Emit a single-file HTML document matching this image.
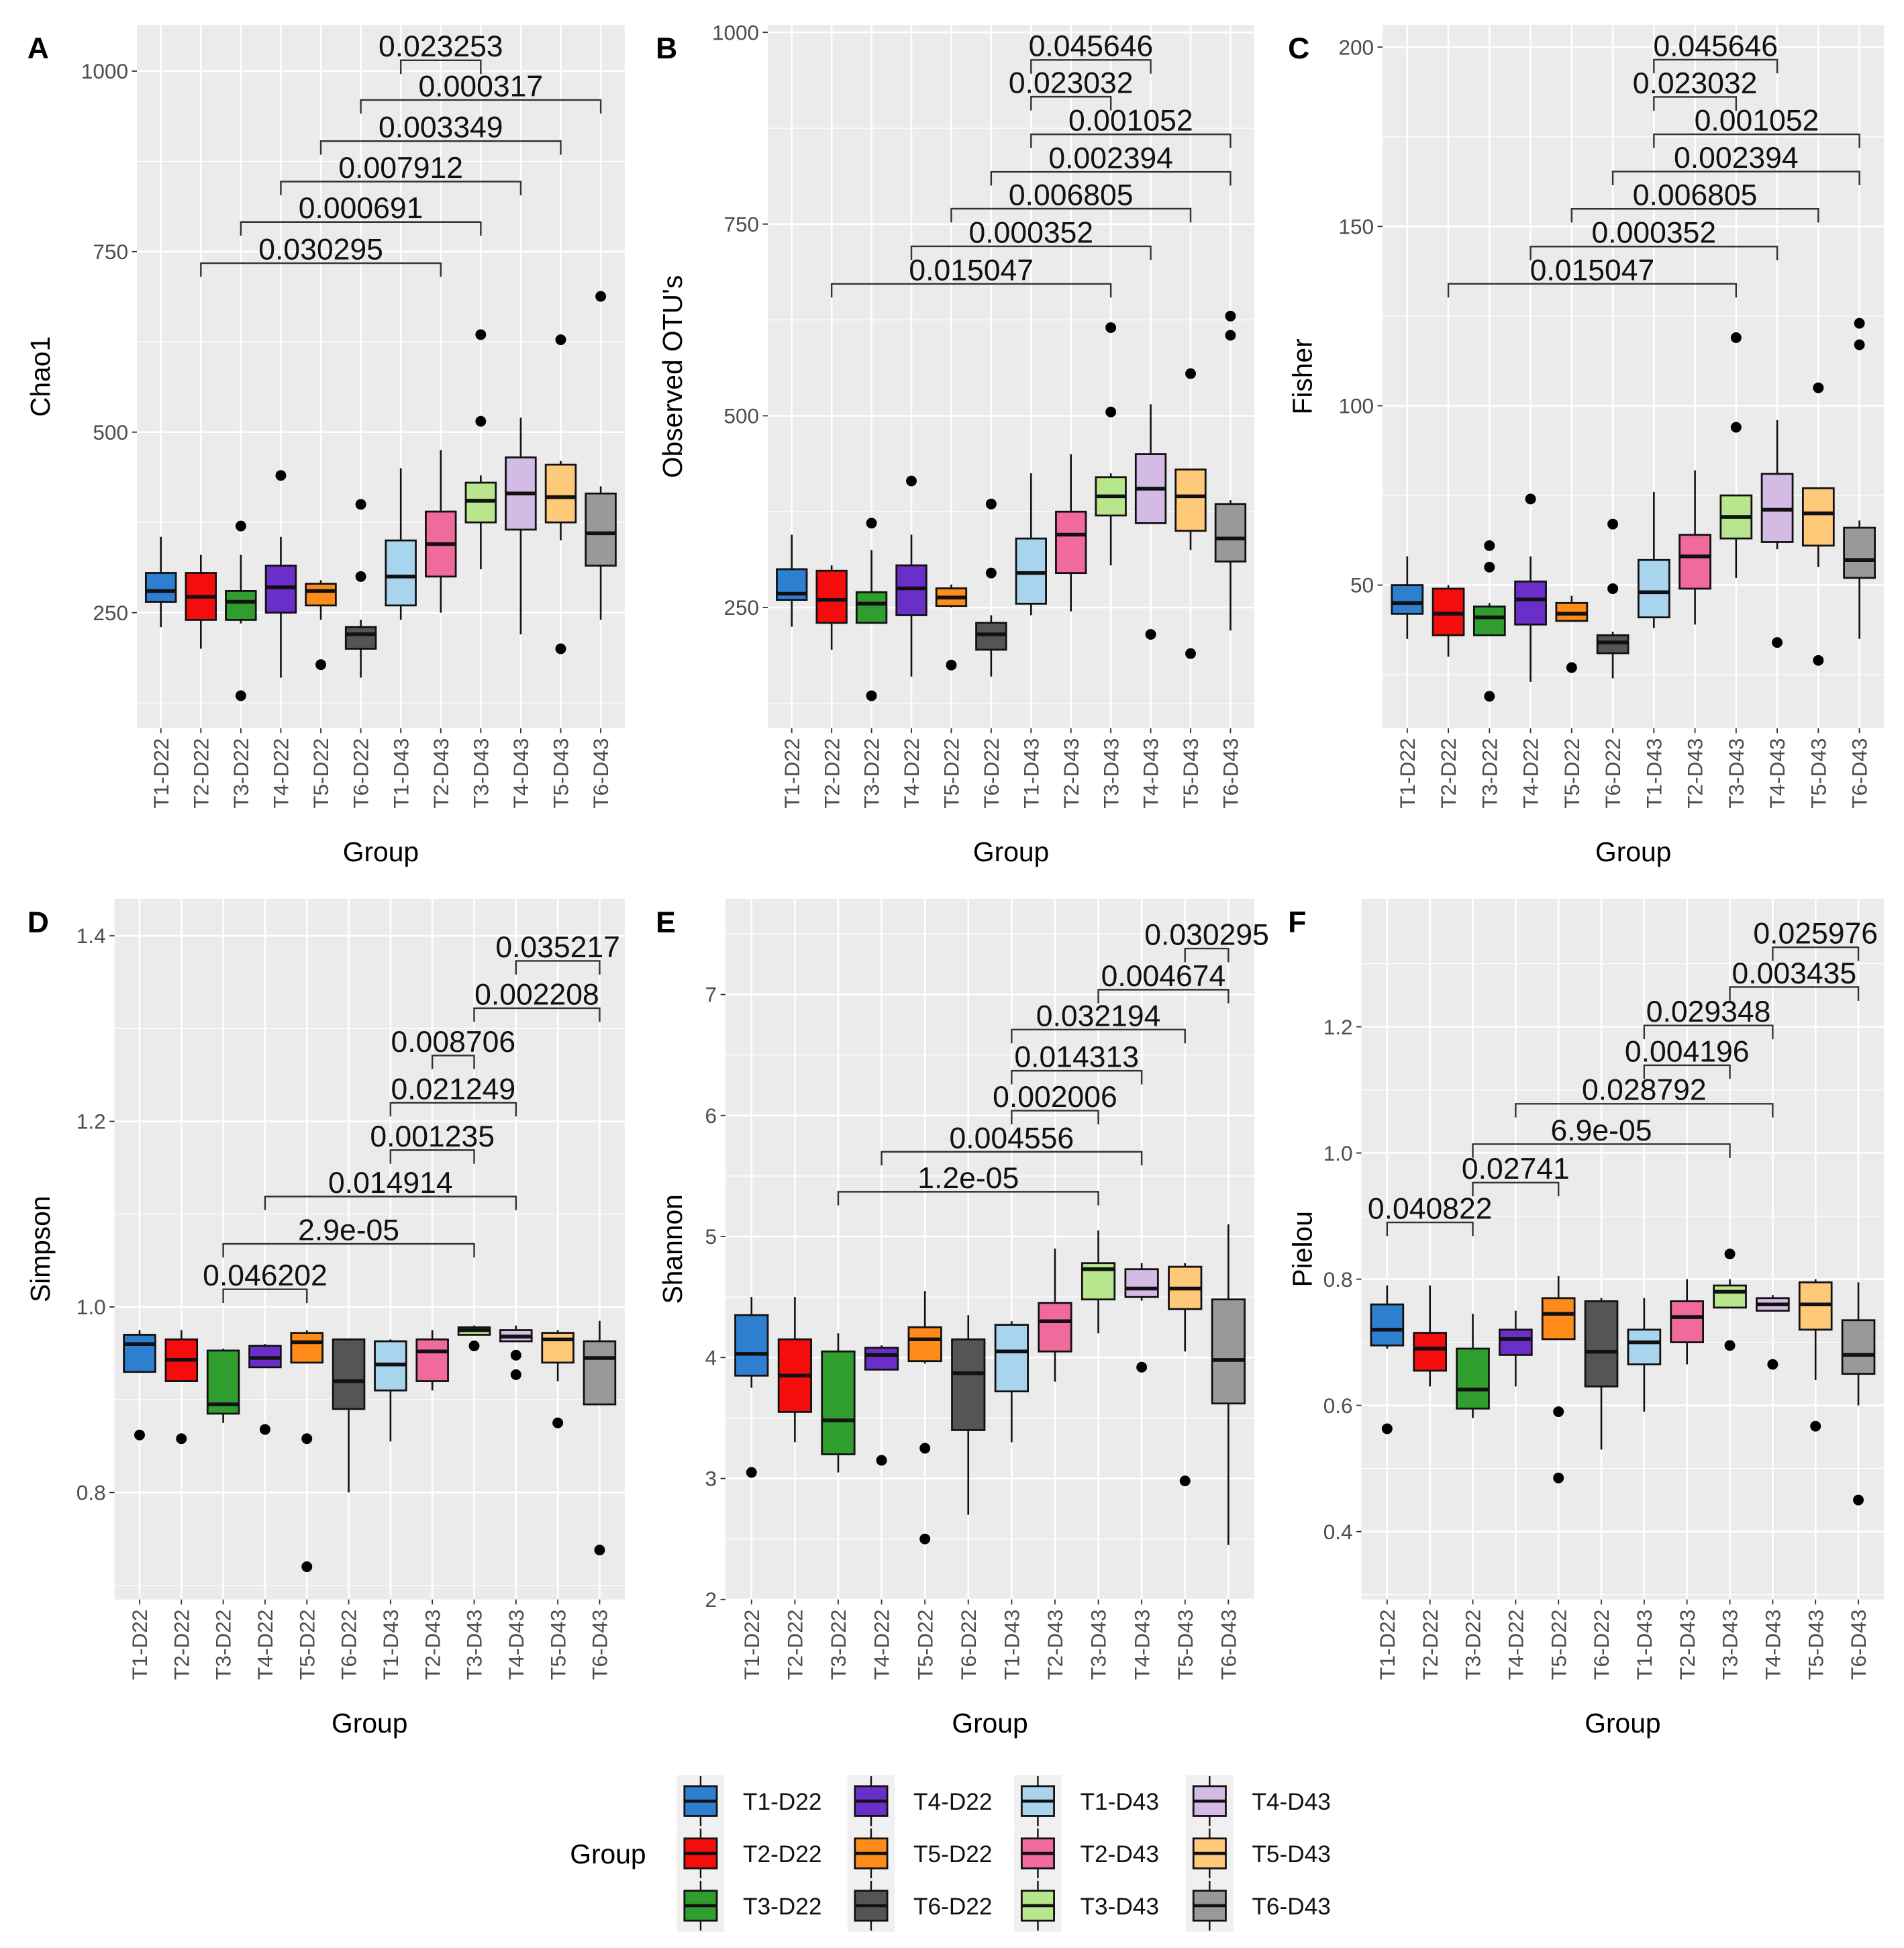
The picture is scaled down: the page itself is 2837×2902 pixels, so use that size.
<!DOCTYPE html>
<html><head><meta charset="utf-8">
<style>
html,body{margin:0;padding:0;background:#fff;}
svg{display:block;font-family:"Liberation Sans",Arial,sans-serif;}
</style></head>
<body>
<svg id="fig" width="2837" height="2902" viewBox="0 0 1530 1565" preserveAspectRatio="none" xmlns="http://www.w3.org/2000/svg"></svg>
<script>
const groups=["T1-D22","T2-D22","T3-D22","T4-D22","T5-D22","T6-D22","T1-D43","T2-D43","T3-D43","T4-D43","T5-D43","T6-D43"];
const colors=["#2f7fd0","#f50d0d","#2f9e2f","#6a2fc9","#ff8c1a","#555555","#a8d4ee","#f06a9e","#b8e68c","#d4bbe6","#ffc97a","#999999"];

// Panel A - Chao1
const aLow=[230,200,235,160,240,160,240,250,310,220,350,240];
const aQ1=[265,240,240,250,260,200,260,300,375,365,375,315];
const aMed=[280,272,265,285,280,220,300,345,405,415,410,360];
const aQ3=[305,305,280,315,290,230,350,390,430,465,455,415];
const aHigh=[355,330,330,355,295,240,450,475,440,520,460,425];
const aOut=[[],[],[370,135],[440],[178],[300,400],[],[],[515,635],[],[628,200],[688]];
const aTicks=[250,500,750,1000];
const aSigLabels=["0.023253","0.000317","0.003349","0.007912","0.000691","0.030295"];
const aSigFrom=[6,5,4,3,2,1];
const aSigTo=[8,11,10,9,8,7];
const aSigY=[1015,960,903,847,791,734];

// Panel B - Observed OTUs
const bLow=[225,195,230,160,250,160,240,245,305,360,325,220];
const bQ1=[260,230,230,240,252,195,255,295,370,360,350,310];
const bMed=[268,260,255,275,263,215,295,345,395,405,395,340];
const bQ3=[300,298,270,305,275,230,340,375,420,450,430,385];
const bHigh=[345,305,325,345,280,240,425,450,425,515,430,390];
const bOut=[[],[],[360,135],[415],[175],[295,385],[],[],[505,615],[215],[555,190],[605,630]];
const bTicks=[250,500,750,1000];
const bSigLabels=["0.045646","0.023032","0.001052","0.002394","0.006805","0.000352","0.015047"];
const bSigFrom=[6,6,6,5,4,3,1];
const bSigTo=[9,8,11,11,10,9,8];
const bSigY=[964,916,867,818,770,721,672];

// Panel C - Fisher
const cLow=[35,30,36,23,40,24,38,39,52,60,55,35];
const cQ1=[42,36,36,39,40,31,41,49,63,62,61,52];
const cMed=[45,42,41,46,42,34,48,58,69,71,70,57];
const cQ3=[50,49,44,51,45,36,57,64,75,81,77,66];
const cHigh=[58,50,45,58,47,37,76,82,75,96,77,68];
const cOut=[[],[],[61,55,19],[74],[27],[49,67],[],[],[94,119],[34],[105,29],[117,123]];
const cTicks=[50,100,150,200];
const cSigLabels=["0.045646","0.023032","0.001052","0.002394","0.006805","0.000352","0.015047"];
const cSigFrom=[6,6,6,5,4,3,1];
const cSigTo=[9,8,11,11,10,9,8];
const cSigY=[196.5,186.1,175.7,165.3,154.9,144.4,134.0];

// Panel D - Simpson
const dLow=[0.93,0.92,0.875,0.935,0.94,0.80,0.855,0.91,0.97,0.963,0.92,0.895];
const dQ1=[0.93,0.92,0.885,0.935,0.94,0.89,0.91,0.92,0.97,0.963,0.94,0.895];
const dMed=[0.96,0.943,0.895,0.945,0.962,0.92,0.938,0.952,0.975,0.968,0.965,0.945];
const dQ3=[0.97,0.965,0.953,0.958,0.972,0.965,0.963,0.965,0.978,0.975,0.972,0.963];
const dHigh=[0.975,0.975,0.955,0.96,0.975,0.965,0.965,0.975,0.98,0.98,0.975,0.985];
const dOut=[[0.862],[0.858],[],[0.868],[0.858,0.72],[],[],[],[0.958],[0.948,0.927],[0.875],[0.738]];
const dTicks=[0.8,1.0,1.2,1.4];
const dSigLabels=["0.035217","0.002208","0.008706","0.021249","0.001235","0.014914","2.9e-05","0.046202"];
const dSigFrom=[9,8,7,6,6,3,2,2];
const dSigTo=[11,11,8,9,8,9,8,4];
const dSigY=[1.373,1.322,1.271,1.220,1.169,1.119,1.068,1.019];

// Panel E - Shannon
const eLow=[3.75,3.3,3.05,3.9,3.95,2.7,3.3,3.8,4.2,4.47,4.05,2.45];
const eQ1=[3.85,3.55,3.2,3.9,3.97,3.4,3.72,4.05,4.48,4.5,4.4,3.62];
const eMed=[4.03,3.85,3.48,4.02,4.15,3.87,4.05,4.3,4.73,4.57,4.57,3.98];
const eQ3=[4.35,4.15,4.05,4.08,4.25,4.15,4.27,4.45,4.78,4.73,4.75,4.48];
const eHigh=[4.5,4.5,4.2,4.1,4.55,4.35,4.3,4.9,5.05,4.78,4.78,5.1];
const eOut=[[3.05],[],[],[3.15],[3.25,2.5],[],[],[],[],[3.92],[2.98],[]];
const eTicks=[2,3,4,5,6,7];
const eSigLabels=["0.030295","0.004674","0.032194","0.014313","0.002006","0.004556","1.2e-05"];
const eSigFrom=[10,8,6,6,6,3,2];
const eSigTo=[11,11,10,9,8,9,8];
const eSigY=[7.38,7.04,6.71,6.37,6.04,5.70,5.37];

// Panel F - Pielou
const fLow=[0.69,0.63,0.58,0.63,0.705,0.53,0.59,0.665,0.755,0.75,0.64,0.60];
const fQ1=[0.695,0.655,0.595,0.68,0.705,0.63,0.665,0.70,0.755,0.75,0.72,0.65];
const fMed=[0.72,0.69,0.625,0.705,0.745,0.685,0.70,0.74,0.78,0.76,0.76,0.68];
const fQ3=[0.76,0.715,0.69,0.72,0.77,0.765,0.72,0.765,0.79,0.77,0.795,0.735];
const fHigh=[0.79,0.79,0.745,0.75,0.805,0.77,0.77,0.80,0.80,0.775,0.80,0.795];
const fOut=[[0.563],[],[],[],[0.59,0.485],[],[],[],[0.84,0.695],[0.665],[0.567],[0.45]];
const fTicks=[0.4,0.6,0.8,1.0,1.2];
const fSigLabels=["0.025976","0.003435","0.029348","0.004196","0.028792","6.9e-05","0.02741","0.040822"];
const fSigFrom=[9,8,6,6,3,2,2,0];
const fSigTo=[11,11,9,8,9,8,4,2];
const fSigY=[1.326,1.263,1.202,1.139,1.078,1.014,0.953,0.890];

const NS="http://www.w3.org/2000/svg";
const svg=document.getElementById("fig");
function mk(tag,attrs,parent){const e=document.createElementNS(NS,tag);for(const k in attrs)e.setAttribute(k,attrs[k]);(parent||svg).appendChild(e);return e;}

const panels=[
 {id:"a",letter:"A",title:"Chao1",lx:22,tx:32,x0:110,x1:502,y0:20,y1:585,vTop:1064,vBot:90,ticks:aTicks,fmt:v=>String(v),low:aLow,q1:aQ1,med:aMed,q3:aQ3,high:aHigh,out:aOut,sl:aSigLabels,sf:aSigFrom,st:aSigTo,sy:aSigY},
 {id:"b",letter:"B",title:"Observed OTU's",lx:527,tx:540,x0:617,x1:1008,y0:20,y1:585,vTop:1009.7,vBot:92.7,ticks:bTicks,fmt:v=>String(v),low:bLow,q1:bQ1,med:bMed,q3:bQ3,high:bHigh,out:bOut,sl:bSigLabels,sf:bSigFrom,st:bSigTo,sy:bSigY},
 {id:"c",letter:"C",title:"Fisher",lx:1035,tx:1046,x0:1111,x1:1514,y0:20,y1:585,vTop:206.2,vBot:10.1,ticks:cTicks,fmt:v=>String(v),low:cLow,q1:cQ1,med:cMed,q3:cQ3,high:cHigh,out:cOut,sl:cSigLabels,sf:cSigFrom,st:cSigTo,sy:cSigY},
 {id:"d",letter:"D",title:"Simpson",lx:22,tx:32,x0:92,x1:502,y0:722,y1:1285,vTop:1.440,vBot:0.6847,ticks:dTicks,fmt:v=>v.toFixed(1),low:dLow,q1:dQ1,med:dMed,q3:dQ3,high:dHigh,out:dOut,sl:dSigLabels,sf:dSigFrom,st:dSigTo,sy:dSigY},
 {id:"e",letter:"E",title:"Shannon",lx:527,tx:540,x0:583,x1:1008,y0:722,y1:1285,vTop:7.792,vBot:2.0,ticks:eTicks,fmt:v=>String(v),low:eLow,q1:eQ1,med:eMed,q3:eQ3,high:eHigh,out:eOut,sl:eSigLabels,sf:eSigFrom,st:eSigTo,sy:eSigY},
 {id:"f",letter:"F",title:"Pielou",lx:1035,tx:1046,x0:1094,x1:1514,y0:722,y1:1285,vTop:1.403,vBot:0.2924,ticks:fTicks,fmt:v=>v.toFixed(1),low:fLow,q1:fQ1,med:fMed,q3:fQ3,high:fHigh,out:fOut,sl:fSigLabels,sf:fSigFrom,st:fSigTo,sy:fSigY}
];

panels.forEach(p=>{
  const g=mk("g",{});
  
  
  const n=groups.length;
  const step=(p.x1-p.x0)/(n-1+1.2);
  const xs=i=>p.x0+step*(0.6+i);
  const ys=v=>p.y1-(v-p.vBot)/(p.vTop-p.vBot)*(p.y1-p.y0);
  const bg=mk("rect",{x:p.x0,y:p.y0,width:p.x1-p.x0,height:p.y1-p.y0,fill:"#ebebeb"},g);
  
  
  const tstep=p.ticks[1]-p.ticks[0];
  for(let k=-1;k<p.ticks.length;k++){
    const mv=p.ticks[0]+tstep*(k+0.5);
    const yy=ys(mv);
    if(yy>p.y0&&yy<p.y1){const l=mk("line",{x1:p.x0,x2:p.x1,y1:yy,y2:yy,stroke:"#fff","stroke-width":0.7},g);
      }
  }
  p.ticks.forEach(t=>{
    const yy=ys(t);
    const l=mk("line",{x1:p.x0,x2:p.x1,y1:yy,y2:yy,stroke:"#fff","stroke-width":1.4},g);
    
    mk("line",{x1:p.x0-4,x2:p.x0,y1:yy,y2:yy,stroke:"#333","stroke-width":1},g);
    const tx=mk("text",{x:p.x0-7,y:yy+6,"text-anchor":"end","font-size":17,fill:"#4d4d4d"},g);
    tx.textContent=p.fmt(t);
    
  });
  groups.forEach((gname,i)=>{
    const x=xs(i);
    const l=mk("line",{x1:x,x2:x,y1:p.y0,y2:p.y1,stroke:"#fff","stroke-width":1.4},g);
    
    mk("line",{x1:x,x2:x,y1:p.y1,y2:p.y1+4,stroke:"#333","stroke-width":1},g);
    const tx=mk("text",{x:0,y:0,"text-anchor":"end","font-size":17,fill:"#4d4d4d",transform:`translate(${x+6},${p.y1+8}) rotate(-90)`},g);
    tx.textContent=gname;
    
  });
  const bw=step*0.75;
  groups.forEach((gname,i)=>{
    const x=xs(i);
    const bx=mk("g",{},g);
    
    
    mk("line",{x1:x,x2:x,y1:ys(p.high[i]),y2:ys(p.q3[i]),stroke:"#111","stroke-width":1.4},bx);
    mk("line",{x1:x,x2:x,y1:ys(p.q1[i]),y2:ys(p.low[i]),stroke:"#111","stroke-width":1.4},bx);
    mk("rect",{x:x-bw/2,y:ys(p.q3[i]),width:bw,height:Math.max(0.5,ys(p.q1[i])-ys(p.q3[i])),fill:colors[i],stroke:"#111","stroke-width":1.5},bx);
    mk("line",{x1:x-bw/2,x2:x+bw/2,y1:ys(p.med[i]),y2:ys(p.med[i]),stroke:"#111","stroke-width":3},bx);
    p.out[i].forEach(o=>{
      const c=mk("circle",{cx:x,cy:ys(o),r:4.3,fill:"#000"},bx);
      
    });
  });
  p.sl.forEach((lab,k)=>{
    const xa=xs(p.sf[k]),xb=xs(p.st[k]),yy=ys(p.sy[k]);
    const br=mk("g",{},g);
    
    
    mk("path",{d:`M${xa},${yy+11} L${xa},${yy} L${xb},${yy} L${xb},${yy+11}`,fill:"none",stroke:"#333","stroke-width":1.3},br);
    const t=mk("text",{x:(xa+xb)/2,y:yy-3,"text-anchor":"middle","font-size":24,fill:"#111"},br);
    t.textContent=lab;
  });
  const lt=mk("text",{x:p.lx,y:p.y0+27,"font-size":24,"font-weight":"bold",fill:"#000"},g);
  lt.textContent=p.letter;
  
  const yt=mk("text",{x:0,y:0,"text-anchor":"middle","font-size":22,fill:"#000",transform:`translate(${p.tx+8},${(p.y0+p.y1)/2}) rotate(-90)`},g);
  yt.textContent=p.title;
  
  const xt=mk("text",{x:(p.x0+p.x1)/2,y:p.y1+107,"text-anchor":"middle","font-size":22,fill:"#000"},g);
  xt.textContent="Group";
  
});

const lg=mk("g",{});


const ltitle=mk("text",{x:458,y:1497,"font-size":22,fill:"#000"},lg);
ltitle.textContent="Group";

const colX=[546,683,817,955];
const rowY=[1447,1489,1531];
groups.forEach((gname,i)=>{
  const cx=colX[Math.floor(i/3)], cy=rowY[i%3];
  const e=mk("g",{},lg);
  
  
  mk("rect",{x:cx-2,y:cy-21,width:38,height:42,fill:"#f0f0f0"},e);
  mk("line",{x1:cx+17,x2:cx+17,y1:cy-20,y2:cy+20,stroke:"#111","stroke-width":1.3},e);
  mk("rect",{x:cx+4,y:cy-12,width:26,height:24,fill:colors[i],stroke:"#111","stroke-width":1.5},e);
  mk("line",{x1:cx+4,x2:cx+30,y1:cy,y2:cy,stroke:"#111","stroke-width":2.5},e);
  const t=mk("text",{x:cx+51,y:cy+7,"font-size":19,fill:"#111"},e);
  t.textContent=gname;
});
</script>
</body></html>
